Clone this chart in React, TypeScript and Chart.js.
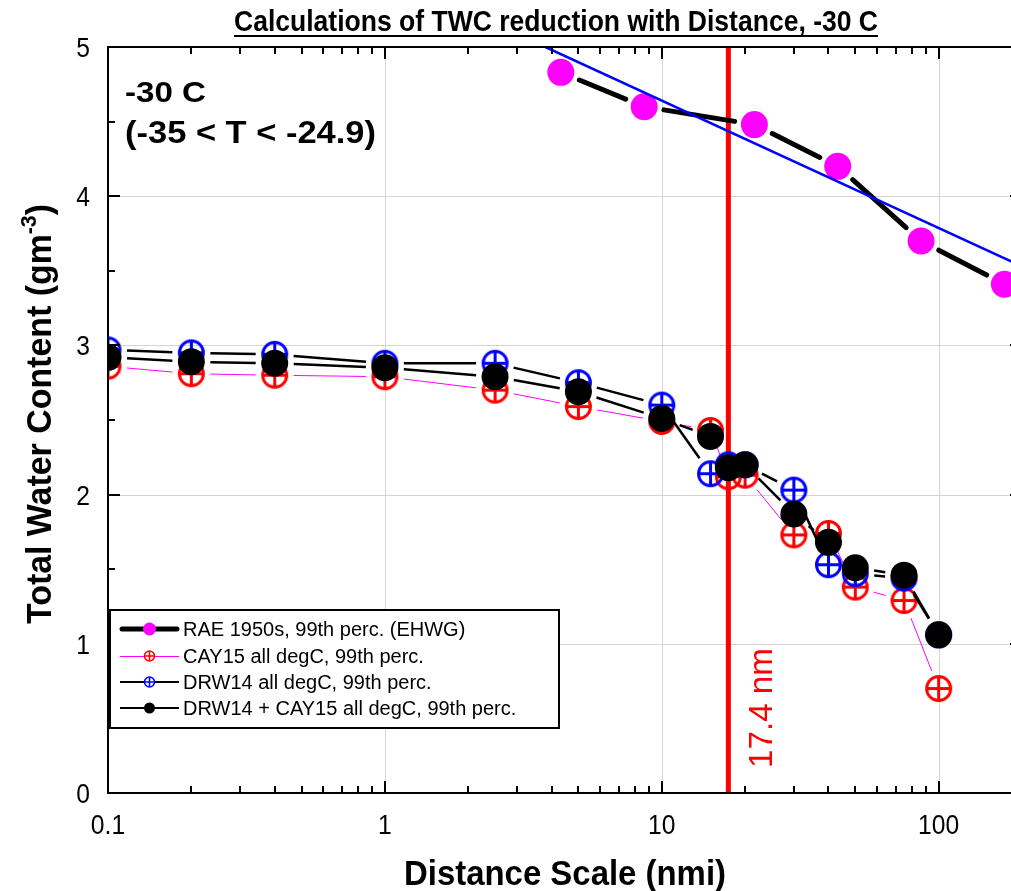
import React, { useEffect, useRef } from 'react';
import { Chart, registerables } from 'chart.js';

Chart.register(...registerables);

// RAE 1950s 99th percentile curve (EHWG)
const RAE_DIST = [4.32, 8.64, 21.6, 43.2, 86.4, 172.8];
const RAE_TWC = [4.83, 4.6, 4.48, 4.2, 3.7, 3.41];

// Flight-campaign statistics, all sharing the same distance scales
const DIST = [0.1, 0.2, 0.4, 1, 2.5, 5, 10, 15, 17.4, 20, 30, 40, 50, 75, 100];
const CAY15_TWC = [2.86, 2.81, 2.8, 2.79, 2.7, 2.59, 2.49, 2.43, 2.12, 2.13, 1.73, 1.74, 1.38, 1.29, 0.7];
const DRW14_TWC = [2.97, 2.95, 2.94, 2.88, 2.88, 2.75, 2.6, 2.14, 2.2, 2.2, 2.03, 1.53, 1.47, 1.44, 1.06];
const COMBINED_TWC = [2.92, 2.89, 2.88, 2.85, 2.79, 2.69, 2.51, 2.39, 2.18, 2.2, 1.87, 1.68, 1.51, 1.46, 1.06];

// Straight (log-x) fit through the RAE curve
const FIT_DIST = [3.8, 200];
const FIT_TWC = [5.0, 3.53];

// Reference distance marker
const CUTOFF_NM = 17.4;
const CUTOFF_LABEL = '17.4 nm';

// Axes
const X_MIN = 0.1;
const X_MAX = 200;
const Y_MIN = 0;
const Y_MAX = 5;
const X_MAJOR_TICKS = [0.1, 1, 10, 100];
const X_TICK_LABELS = ['0.1', '1', '10', '100'];
const X_MINOR_TICKS = [
  0.2, 0.3, 0.4, 0.5, 0.6, 0.7, 0.8, 0.9,
  2, 3, 4, 5, 6, 7, 8, 9,
  20, 30, 40, 50, 60, 70, 80, 90,
];
const X_GRID = [1, 10, 100];
const Y_MAJOR_TICKS = [0, 1, 2, 3, 4, 5];
const Y_TICK_LABELS = ['0', '1', '2', '3', '4', '5'];
const Y_MINOR_TICKS = [0.5, 1.5, 2.5, 3.5, 4.5];
const Y_GRID = [1, 2, 3, 4];

const TITLE = 'Calculations of TWC reduction with Distance, -30 C';
const X_TITLE = 'Distance Scale (nmi)';
const Y_TITLE_MAIN = 'Total Water Content (gm';
const Y_TITLE_SUP = '-3';
const Y_TITLE_END = ')';
const NOTE_LINE_1 = '-30 C';
const NOTE_LINE_2 = '(-35 < T < -24.9)';

const LEGEND_LABELS = [
  'RAE 1950s, 99th perc. (EHWG)',
  'CAY15 all degC, 99th perc.',
  'DRW14 all degC, 99th perc.',
  'DRW14 + CAY15 all degC, 99th perc.',
];

const FONT = '"Liberation Sans", Arial, Helvetica, sans-serif';
const RED = '#ff0000';
const BLUE = '#0000ff';
const MAGENTA = '#ff00ff';
const GRID = '#d4d4d4';

function toPoints(xs: number[], ys: number[]) {
  return xs.map((x, i) => ({ x, y: ys[i] }));
}

// circle-with-plus marker
function makeCrossCircle(color: string, r: number, lw: number) {
  const size = Math.ceil(2 * r + lw + 2);
  const c = document.createElement('canvas');
  c.width = size;
  c.height = size;
  const g = c.getContext('2d')!;
  const m = size / 2;
  g.strokeStyle = color;
  g.lineWidth = lw;
  g.beginPath();
  g.arc(m, m, r, 0, Math.PI * 2);
  g.stroke();
  g.beginPath();
  g.moveTo(m - r, m);
  g.lineTo(m + r, m);
  g.moveTo(m, m - r);
  g.lineTo(m, m + r);
  g.stroke();
  return c;
}

function drawCrossCircle(ctx: CanvasRenderingContext2D, x: number, y: number, color: string, r: number, lw: number) {
  ctx.save();
  ctx.strokeStyle = color;
  ctx.lineWidth = lw;
  ctx.beginPath();
  ctx.arc(x, y, r, 0, Math.PI * 2);
  ctx.stroke();
  ctx.beginPath();
  ctx.moveTo(x - r, y);
  ctx.lineTo(x + r, y);
  ctx.moveTo(x, y - r);
  ctx.lineTo(x, y + r);
  ctx.stroke();
  ctx.restore();
}

// Draws text with an optional target width (horizontal scale) or fixed scale factor
function fitText(
  ctx: CanvasRenderingContext2D,
  text: string,
  x: number,
  y: number,
  font: string,
  width: number | null,
  align: CanvasTextAlign,
  color = '#000',
  scaleX = 1,
) {
  ctx.save();
  ctx.font = font;
  const w = ctx.measureText(text).width;
  const s = width ? width / w : scaleX;
  ctx.translate(x, y);
  ctx.scale(s, 1);
  ctx.fillStyle = color;
  ctx.textAlign = align;
  ctx.textBaseline = 'alphabetic';
  ctx.fillText(text, 0, 0);
  ctx.restore();
  return w * s;
}

// Lines between markers, stopping short of each marker (gapped joins)
const gapLinePlugin = {
  id: 'gapLines',
  beforeDatasetDraw(chart: any, args: any) {
    const ds = chart.data.datasets[args.index];
    const spec = ds && ds.gapLine;
    if (!spec) return;
    const pts = args.meta.data;
    const ctx: CanvasRenderingContext2D = chart.ctx;
    const a = chart.chartArea;
    ctx.save();
    ctx.beginPath();
    ctx.rect(a.left, a.top, a.right - a.left, a.bottom - a.top);
    ctx.clip();
    ctx.strokeStyle = spec.color;
    ctx.lineWidth = spec.width;
    ctx.lineCap = spec.cap || 'butt';
    for (let i = 0; i < pts.length - 1; i++) {
      const p = pts[i];
      const q = pts[i + 1];
      const dx = q.x - p.x;
      const dy = q.y - p.y;
      const d = Math.hypot(dx, dy);
      if (d <= 2 * spec.gap + 1) continue;
      const ux = dx / d;
      const uy = dy / d;
      ctx.beginPath();
      ctx.moveTo(p.x + ux * spec.gap, p.y + uy * spec.gap);
      ctx.lineTo(q.x - ux * spec.gap, q.y - uy * spec.gap);
      ctx.stroke();
    }
    ctx.restore();
  },
};

// Grid, frame, inward ticks, labels, titles, notes and the legend box
const framePlugin = {
  id: 'frame',
  beforeDatasetsDraw(chart: any) {
    const ctx: CanvasRenderingContext2D = chart.ctx;
    const a = chart.chartArea;
    const xs = chart.scales.x;
    const ys = chart.scales.y;
    ctx.save();
    ctx.strokeStyle = GRID;
    ctx.lineWidth = 1;
    ctx.beginPath();
    X_GRID.forEach((v) => {
      const px = Math.round(xs.getPixelForValue(v)) + 0.5;
      ctx.moveTo(px, a.top);
      ctx.lineTo(px, a.bottom);
    });
    Y_GRID.forEach((v) => {
      const py = Math.round(ys.getPixelForValue(v)) + 0.5;
      ctx.moveTo(a.left, py);
      ctx.lineTo(a.right, py);
    });
    ctx.stroke();
    ctx.restore();
  },
  afterDatasetsDraw(chart: any) {
    const ctx: CanvasRenderingContext2D = chart.ctx;
    const a = chart.chartArea;
    const xs = chart.scales.x;
    const ys = chart.scales.y;
    const MAJ = 12;
    const MIN = 7;

    ctx.save();
    ctx.strokeStyle = '#000';
    ctx.lineWidth = 2;
    ctx.lineCap = 'butt';

    // frame
    ctx.beginPath();
    ctx.moveTo(a.left, a.top);
    ctx.lineTo(a.right, a.top);
    ctx.lineTo(a.right, a.bottom);
    ctx.lineTo(a.left, a.bottom);
    ctx.closePath();
    ctx.stroke();

    // x ticks (bottom and top, pointing inward)
    ctx.beginPath();
    const xTick = (v: number, len: number) => {
      const px = Math.round(xs.getPixelForValue(v));
      ctx.moveTo(px, a.bottom);
      ctx.lineTo(px, a.bottom - len);
      ctx.moveTo(px, a.top);
      ctx.lineTo(px, a.top + len);
    };
    X_MAJOR_TICKS.forEach((v) => xTick(v, MAJ));
    X_MINOR_TICKS.forEach((v) => xTick(v, MIN));
    // y ticks (left and right, pointing inward)
    const yTick = (v: number, len: number) => {
      const py = Math.round(ys.getPixelForValue(v));
      ctx.moveTo(a.left, py);
      ctx.lineTo(a.left + len, py);
      ctx.moveTo(a.right, py);
      ctx.lineTo(a.right - len, py);
    };
    Y_MAJOR_TICKS.forEach((v) => yTick(v, MAJ));
    Y_MINOR_TICKS.forEach((v) => yTick(v, MIN));
    ctx.stroke();
    ctx.restore();

    // tick labels (slightly condensed)
    const tickFont = `28px ${FONT}`;
    X_MAJOR_TICKS.forEach((v, i) => {
      fitText(ctx, X_TICK_LABELS[i], xs.getPixelForValue(v), a.bottom + 41, tickFont, null, 'center', '#000', 0.88);
    });
    Y_MAJOR_TICKS.forEach((v, i) => {
      fitText(ctx, Y_TICK_LABELS[i], a.left - 18, ys.getPixelForValue(v) + 10, tickFont, null, 'right', '#000', 0.88);
    });

    // chart title, underlined
    const tw = fitText(ctx, TITLE, 556, 31, `bold 29px ${FONT}`, 644, 'center');
    ctx.save();
    ctx.strokeStyle = '#000';
    ctx.lineWidth = 2;
    ctx.beginPath();
    ctx.moveTo(556 - tw / 2, 36);
    ctx.lineTo(556 + tw / 2, 36);
    ctx.stroke();
    ctx.restore();

    // x axis title
    fitText(ctx, X_TITLE, 565, 885, `bold 35px ${FONT}`, 322, 'center');

    // y axis title with superscript, rotated
    ctx.save();
    ctx.translate(51, 414);
    ctx.rotate(-Math.PI / 2);
    const mainFont = `bold 35px ${FONT}`;
    const supFont = `bold 22px ${FONT}`;
    ctx.font = mainFont;
    const w1 = ctx.measureText(Y_TITLE_MAIN).width;
    const w3 = ctx.measureText(Y_TITLE_END).width;
    ctx.font = supFont;
    const w2 = ctx.measureText(Y_TITLE_SUP).width;
    const total = w1 + w2 + w3;
    const s = 420 / total;
    ctx.scale(s, 1);
    let cx = -total / 2;
    ctx.fillStyle = '#000';
    ctx.textBaseline = 'alphabetic';
    ctx.textAlign = 'left';
    ctx.font = mainFont;
    ctx.fillText(Y_TITLE_MAIN, cx, 0);
    cx += w1;
    ctx.font = supFont;
    ctx.fillText(Y_TITLE_SUP, cx, -15);
    cx += w2;
    ctx.font = mainFont;
    ctx.fillText(Y_TITLE_END, cx, 0);
    ctx.restore();

    // temperature note
    fitText(ctx, NOTE_LINE_1, 125, 102, `bold 30px ${FONT}`, 81, 'left');
    fitText(ctx, NOTE_LINE_2, 125, 143, `bold 31px ${FONT}`, 251, 'left');

    // cutoff label, rotated
    ctx.save();
    ctx.translate(772, 708);
    ctx.rotate(-Math.PI / 2);
    fitText(ctx, CUTOFF_LABEL, 0, 0, `33px ${FONT}`, 120, 'center', RED);
    ctx.restore();

    // legend
    const bx = 110;
    const by = 610;
    const bw = 449;
    const bh = 118;
    ctx.save();
    ctx.fillStyle = '#fff';
    ctx.fillRect(bx, by, bw, bh);
    ctx.strokeStyle = '#000';
    ctx.lineWidth = 2;
    ctx.strokeRect(bx, by, bw, bh);
    const rows = [629, 656, 682, 708];
    const lx0 = 120;
    const lx1 = 179;
    const mx = (lx0 + lx1) / 2;
    // RAE
    ctx.strokeStyle = '#000';
    ctx.lineWidth = 5;
    ctx.lineCap = 'round';
    ctx.beginPath();
    ctx.moveTo(lx0 + 2, rows[0]);
    ctx.lineTo(lx1 - 2, rows[0]);
    ctx.stroke();
    ctx.fillStyle = MAGENTA;
    ctx.beginPath();
    ctx.arc(mx, rows[0], 6.5, 0, Math.PI * 2);
    ctx.fill();
    // CAY15
    ctx.lineCap = 'butt';
    ctx.strokeStyle = MAGENTA;
    ctx.lineWidth = 1;
    ctx.beginPath();
    ctx.moveTo(lx0, rows[1] + 0.5);
    ctx.lineTo(lx1, rows[1] + 0.5);
    ctx.stroke();
    ctx.fillStyle = '#fff';
    ctx.beginPath();
    ctx.arc(mx, rows[1], 5.5, 0, Math.PI * 2);
    ctx.fill();
    drawCrossCircle(ctx, mx, rows[1], RED, 5, 1.6);
    // DRW14
    ctx.strokeStyle = '#000';
    ctx.lineWidth = 2;
    ctx.beginPath();
    ctx.moveTo(lx0, rows[2]);
    ctx.lineTo(lx1, rows[2]);
    ctx.stroke();
    ctx.fillStyle = '#fff';
    ctx.beginPath();
    ctx.arc(mx, rows[2], 5.5, 0, Math.PI * 2);
    ctx.fill();
    drawCrossCircle(ctx, mx, rows[2], BLUE, 5, 1.6);
    // combined
    ctx.beginPath();
    ctx.moveTo(lx0, rows[3]);
    ctx.lineTo(lx1, rows[3]);
    ctx.stroke();
    ctx.fillStyle = '#000';
    ctx.beginPath();
    ctx.arc(mx, rows[3], 5.5, 0, Math.PI * 2);
    ctx.fill();
    ctx.restore();
    LEGEND_LABELS.forEach((t, i) => {
      fitText(ctx, t, 183, rows[i] + 7, `20px ${FONT}`, null, 'left');
    });
  },
};

export default function App() {
  const ref = useRef<HTMLCanvasElement>(null);

  useEffect(() => {
    const canvas = ref.current;
    if (!canvas) return;
    const redCross = makeCrossCircle(RED, 12, 3);
    const blueCross = makeCrossCircle(BLUE, 12, 3);

    const chart = new Chart(canvas, {
      type: 'scatter',
      data: {
        datasets: [
          {
            label: 'cutoff',
            data: [
              { x: CUTOFF_NM, y: Y_MIN },
              { x: CUTOFF_NM, y: Y_MAX },
            ],
            showLine: true,
            borderColor: RED,
            borderWidth: 5,
            pointRadius: 0,
            order: 6,
          },
          {
            label: LEGEND_LABELS[0],
            data: toPoints(RAE_DIST, RAE_TWC),
            showLine: false,
            pointRadius: 13.5,
            pointBackgroundColor: MAGENTA,
            pointBorderWidth: 0,
            gapLine: { color: '#000', width: 5, gap: 20, cap: 'round' },
            order: 5,
          } as any,
          {
            label: 'fit',
            data: toPoints(FIT_DIST, FIT_TWC),
            showLine: true,
            borderColor: BLUE,
            borderWidth: 2.5,
            pointRadius: 0,
            order: 4,
          },
          {
            label: LEGEND_LABELS[1],
            data: toPoints(DIST, CAY15_TWC),
            showLine: false,
            pointRadius: 13,
            pointStyle: redCross,
            gapLine: { color: MAGENTA, width: 1, gap: 19 },
            order: 3,
          } as any,
          {
            label: LEGEND_LABELS[2],
            data: toPoints(DIST, DRW14_TWC),
            showLine: false,
            pointRadius: 13,
            pointStyle: blueCross,
            gapLine: { color: '#000', width: 2.5, gap: 19 },
            order: 2,
          } as any,
          {
            label: LEGEND_LABELS[3],
            data: toPoints(DIST, COMBINED_TWC),
            showLine: false,
            pointRadius: 13.5,
            pointBackgroundColor: '#000',
            pointBorderWidth: 0,
            gapLine: { color: '#000', width: 2.5, gap: 19 },
            order: 1,
          } as any,
        ],
      },
      options: {
        responsive: false,
        animation: false,
        devicePixelRatio: 1,
        events: [],
        layout: { padding: { left: 108, top: 47, right: 18, bottom: 98 } },
        scales: {
          x: { type: 'logarithmic', min: X_MIN, max: X_MAX, display: false },
          y: { type: 'linear', min: Y_MIN, max: Y_MAX, display: false },
        },
        plugins: {
          legend: { display: false },
          tooltip: { enabled: false },
          title: { display: false },
        },
      },
      plugins: [framePlugin, gapLinePlugin],
    });

    return () => chart.destroy();
  }, []);

  return (
    <div
      style={{
        position: 'fixed',
        left: 0,
        top: 0,
        width: 1011,
        height: 891,
        overflow: 'hidden',
        background: '#fff',
      }}
    >
      <canvas ref={ref} width={1040} height={891} style={{ display: 'block', width: 1040, height: 891 }} />
    </div>
  );
}
